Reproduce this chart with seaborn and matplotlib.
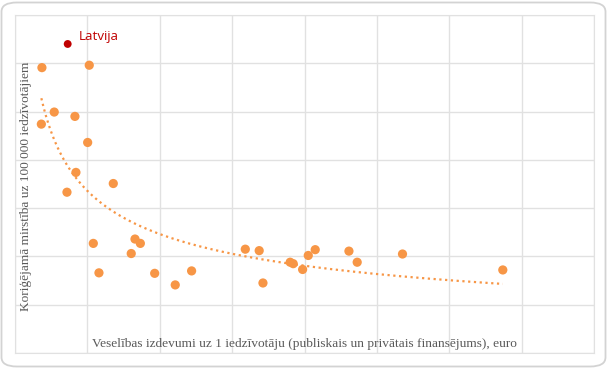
import numpy as np
import pandas as pd
import seaborn as sns
import matplotlib.pyplot as plt
from matplotlib.patches import FancyBboxPatch

# spending per inhabitant (euro) vs. adjusted mortality per 100 000
spend = [186, 513, 271, 414, 182, 502, 421, 679, 359, 541, 580, 829, 866, 803,
         965, 1107, 1220, 1591, 1687, 1713, 1901, 1922, 1987, 2026, 2074, 2307,
         2364, 2677, 3370]
mortality = [591, 596, 499, 490, 474, 436, 374, 351, 333, 227, 166, 236, 227, 206,
             165, 141, 170, 215, 212, 145, 188, 185, 173, 202, 214, 211,
             188, 205, 172]
lv_spend = [364]
lv_mortality = [640]
lv_name = "Latvija"

x_label = "Veselības izdevumi uz 1 iedzīvotāju (publiskais un privātais finansējums), euro"
y_label = "Koriģējamā mirstība uz 100 000 iedzīvotājiem"

df = pd.DataFrame({"spend": spend, "mortality": mortality})
lv = pd.DataFrame({"spend": lv_spend, "mortality": lv_mortality})

# power trendline over all countries (Latvia included), like Excel's
all_pts = pd.concat([df, lv])
b, ln_a = np.polyfit(np.log(all_pts["spend"]), np.log(all_pts["mortality"]), 1)
trend_x = np.linspace(all_pts["spend"].min(), all_pts["spend"].max(), 200)
trend = pd.DataFrame({"spend": trend_x, "mortality": np.exp(ln_a) * trend_x ** b})

sns.set_style("white")
fig = plt.figure(figsize=(6.09, 3.69), dpi=100)
ax = fig.add_axes([15 / 609, 16 / 369, 579 / 609, 338 / 369])

# rounded outer frame
frame = FancyBboxPatch((1.5 / 609, 2.5 / 369), 604 / 609, 364 / 369,
                       boxstyle="round,pad=0,rounding_size=0.025",
                       transform=fig.transFigure, facecolor="white",
                       edgecolor="#D3D3D3", linewidth=1.3, zorder=-10)
fig.patches.append(frame)

sns.lineplot(data=trend, x="spend", y="mortality", ax=ax, color="#F79646",
             linestyle=(0, (1, 1.6)), linewidth=1.6, zorder=2)
sns.scatterplot(data=df, x="spend", y="mortality", ax=ax, color="#F79646",
                s=44, edgecolor="none", zorder=3)
sns.scatterplot(data=lv, x="spend", y="mortality", ax=ax, color="#C00000",
                s=32, edgecolor="none", zorder=3)
ax.annotate(lv_name, (lv_spend[0], lv_mortality[0]), xytext=(8, 3),
            textcoords="offset points", color="#C00000", fontsize=9.6,
            family=["Open Sans", "DejaVu Sans"])

ax.set_xlim(0, 4000)
ax.set_ylim(0, 700)
ax.set_xticks(np.arange(0, 4001, 500))
ax.set_yticks(np.arange(0, 701, 100))
ax.set_xticklabels([])
ax.set_yticklabels([])
ax.tick_params(length=0)
ax.grid(True, color="#E1E1E1", linewidth=1)
for s in ax.spines.values():
    s.set_color("#E1E1E1")
ax.set_xlabel("")
ax.set_ylabel("")

ax.text(0.5, 0.027, x_label, transform=ax.transAxes, ha="center", va="center",
        fontsize=9.6, color="#595959", family="Liberation Serif")
fig.text(26 / 609, 1 - 186 / 369, y_label, rotation=90, ha="center", va="center",
         fontsize=9.6, color="#595959", family="Liberation Serif")

fig.savefig("out.png", dpi=100)
